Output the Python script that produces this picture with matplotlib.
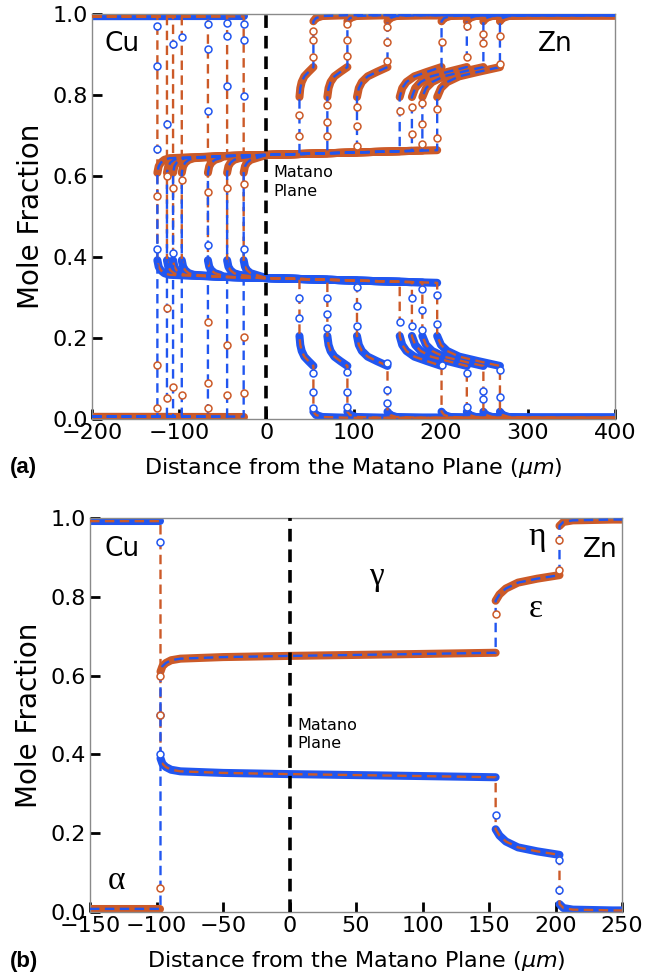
import numpy as np
import matplotlib.pyplot as plt

BLUE = '#2156f0'
ORANGE = '#cc5a28'

# ---------------- panel (a): seven profiles, phase boundaries (um)
a_x_alpha_gamma = [-26, -45, -67, -97, -107, -114, -125]
a_x_gamma_eps = [38, 70, 104, 153, 167, 179, 196]
a_x_eps_eta = [54, 93, 139, 201, 230, 249, 268]

# Zn mole fraction (Cu = 1 - Zn for the bands)
a_zn_alpha = 0.006
a_hook_dx = [0, 1.5, 4, 8, 14]
a_hook_zn = [0.608, 0.624, 0.633, 0.640, 0.644]
a_gamma_x = [-125, -50, 0, 100, 200]
a_gamma_zn = [0.645, 0.649, 0.652, 0.658, 0.664]
a_eps_frac = [0, 0.06, 0.16, 0.35, 0.65, 1.0]
a_eps_zn = [0.795, 0.817, 0.832, 0.846, 0.857, 0.869]
a_eta_dx = [0, 3, 10, 40]
a_eta_zn = [0.982, 0.99, 0.995, 0.997]

# sparse points inside the jumps (per profile)
a_cu_left = [[0.976, 0.936, 0.797, 0.42], [0.978, 0.946, 0.822], [0.975, 0.913, 0.76, 0.43],
             [0.943], [0.926, 0.41], [0.728], [0.97, 0.871, 0.666, 0.42]]
a_zn_left = [[0.064, 0.203, 0.58], [0.059, 0.183, 0.57], [0.027, 0.089, 0.24, 0.56],
             [0.059, 0.59], [0.079, 0.57], [0.052, 0.275, 0.6], [0.027, 0.134, 0.55]]
a_zn_mid = [[0.70, 0.75], [0.70, 0.733, 0.775], [0.673, 0.723, 0.77], [0.76],
            [0.703, 0.77], [0.678, 0.728, 0.78], [0.695, 0.765]]
a_cu_mid = [[0.30, 0.25], [0.30, 0.26, 0.225], [0.325, 0.28, 0.23], [0.24],
            [0.30, 0.23], [0.32, 0.27, 0.22], [0.305, 0.235]]
a_zn_right = [[0.893, 0.936, 0.958], [0.896, 0.936, 0.975], [0.884, 0.93, 0.968], [0.93],
              [0.893, 0.97], [0.928, 0.95], [0.876, 0.945]]
a_cu_right = [[0.114, 0.067, 0.027], [0.116, 0.067, 0.03], [0.138, 0.072, 0.04], [0.134],
              [0.114, 0.03], [0.07, 0.05], [0.12, 0.055]]

# ---------------- panel (b): one profile
b_x_alpha_gamma = -97
b_x_gamma_eps = 155
b_x_eps_eta = 203
b_zn_alpha = 0.008
b_hook_dx = [0, 1.5, 4, 8, 15]
b_hook_zn = [0.610, 0.624, 0.632, 0.639, 0.643]
b_gamma_x = [-97, -50, 0, 100, 155]
b_gamma_zn = [0.643, 0.647, 0.650, 0.655, 0.658]
b_eps_frac = [0, 0.06, 0.16, 0.35, 0.65, 1.0]
b_eps_zn = [0.79, 0.806, 0.821, 0.836, 0.846, 0.855]
b_eta_dx = [0, 3, 10, 40]
b_eta_zn = [0.98, 0.99, 0.994, 0.996]
b_cu_left = [0.94, 0.50, 0.40]
b_zn_left = [0.06, 0.50, 0.60]
b_zn_mid = [0.756]
b_cu_mid = [0.246]
b_zn_right = [0.868, 0.944]
b_cu_right = [0.132, 0.056]


def build(xa, xg, xe, xlo, xhi, zn_alpha, hook_dx, hook_zn, gam_x, gam_zn,
          eps_f, eps_zn, eta_dx, eta_zn):
    seg_alpha = ([xlo, xa], [zn_alpha, zn_alpha])
    gx = [xa + d for d in hook_dx]
    gy = list(hook_zn)
    rest = [x for x in gam_x if gx[-1] + 2 < x < xg] + [xg]
    gx += rest
    gy += list(np.interp(rest, gam_x, gam_zn))
    ex = [xg + f * (xe - xg) for f in eps_f]
    ey = list(eps_zn)
    hx = [xe + d for d in eta_dx if xe + d < xhi] + [xhi]
    hy = list(eta_zn[:len(hx) - 1]) + [eta_zn[len(hx) - 2]]
    return [seg_alpha, (gx, gy), (ex, ey), (hx, hy)]


def draw_profile(ax, segs, jumps, cu_pts, zn_pts):
    # experimental band
    for sx, sy in segs:
        ax.plot(sx, 1 - np.array(sy), color=BLUE, lw=5.8, solid_capstyle='round', zorder=2)
        ax.plot(sx, sy, color=ORANGE, lw=5.8, solid_capstyle='round', zorder=2)
    # model (dashed)
    mx = np.concatenate([s[0] for s in segs])
    my = np.concatenate([s[1] for s in segs])
    ax.plot(mx, 1 - my, color=ORANGE, lw=1.7, ls=(0, (4, 2.3)), zorder=3)
    ax.plot(mx, my, color=BLUE, lw=1.7, ls=(0, (4, 2.3)), zorder=3)
    # sparse points in the jumps
    for xj, cu, zn in zip(jumps, cu_pts, zn_pts):
        ax.plot([xj] * len(cu), cu, 'o', ms=5, mfc='white', mec=BLUE, mew=1.1, zorder=4)
        ax.plot([xj] * len(zn), zn, 'o', ms=5, mfc='white', mec=ORANGE, mew=1.1, zorder=4)


def style(ax, xlim, xticks):
    ax.set_xlim(*xlim)
    ax.set_ylim(0, 1.0)
    ax.set_xticks(xticks)
    ax.set_yticks([0, 0.2, 0.4, 0.6, 0.8, 1.0])
    ax.set_yticklabels(['0.0', '0.2', '0.4', '0.6', '0.8', '1.0'])
    ax.tick_params(direction='in', length=7, width=2, labelsize=16, pad=3)
    for s in ax.spines.values():
        s.set_color('#8a8a8a')
        s.set_linewidth(1.0)
    ax.axvline(0, color='black', lw=2.6, ls=(0, (3.5, 2.2)), zorder=5)
    ax.set_xlabel(r'Distance from the Matano Plane ($\mu m$)', fontsize=16, labelpad=9)
    ax.set_ylabel('Mole Fraction', fontsize=20, labelpad=5)


fig = plt.figure(figsize=(6.55, 9.77), dpi=100)
ax_a = fig.add_axes([92 / 655, 1 - 419 / 977, 523 / 655, 405 / 977])
ax_b = fig.add_axes([90 / 655, 1 - 912 / 977, 532 / 655, 394 / 977])

for i in range(len(a_x_alpha_gamma)):
    xa, xg, xe = a_x_alpha_gamma[i], a_x_gamma_eps[i], a_x_eps_eta[i]
    segs = build(xa, xg, xe, -200, 400, a_zn_alpha, a_hook_dx, a_hook_zn,
                 a_gamma_x, a_gamma_zn, a_eps_frac, a_eps_zn, a_eta_dx, a_eta_zn)
    draw_profile(ax_a, segs, [xa, xg, xe],
                 [a_cu_left[i], a_cu_mid[i], a_cu_right[i]],
                 [a_zn_left[i], a_zn_mid[i], a_zn_right[i]])

style(ax_a, (-200, 400), [-200, -100, 0, 100, 200, 300, 400])
ax_a.text(-165, 0.925, 'Cu', fontsize=19, ha='center', va='center')
ax_a.text(331, 0.925, 'Zn', fontsize=19, ha='center', va='center')
ax_a.text(8, 0.585, 'Matano\nPlane', fontsize=11.5, ha='left', va='center', linespacing=1.3)

segs_b = build(b_x_alpha_gamma, b_x_gamma_eps, b_x_eps_eta, -150, 250, b_zn_alpha,
               b_hook_dx, b_hook_zn, b_gamma_x, b_gamma_zn, b_eps_frac, b_eps_zn,
               b_eta_dx, b_eta_zn)
draw_profile(ax_b, segs_b, [b_x_alpha_gamma, b_x_gamma_eps, b_x_eps_eta],
             [b_cu_left, b_cu_mid, b_cu_right], [b_zn_left, b_zn_mid, b_zn_right])

style(ax_b, (-150, 250), [-150, -100, -50, 0, 50, 100, 150, 200, 250])
ax_b.text(-126, 0.921, 'Cu', fontsize=19, ha='center', va='center')
ax_b.text(234, 0.919, 'Zn', fontsize=19, ha='center', va='center')
ax_b.text(6, 0.45, 'Matano\nPlane', fontsize=11.5, ha='left', va='center', linespacing=1.3)
greek = dict(fontsize=24, ha='center', va='center', family='Liberation Serif')
ax_b.text(65, 0.85, '\u03b3', **greek)
ax_b.text(185, 0.77, '\u03b5', **greek)
ax_b.text(186, 0.952, '\u03b7', **greek)
ax_b.text(-130, 0.08, '\u03b1', **greek)

fig.text(0.015, 1 - 467 / 977, '(a)', fontsize=16, weight='bold', family='Liberation Sans', va='center')
fig.text(0.015, 1 - 962 / 977, '(b)', fontsize=16, weight='bold', family='Liberation Sans', va='center')

fig.savefig('out.png', dpi=100)
